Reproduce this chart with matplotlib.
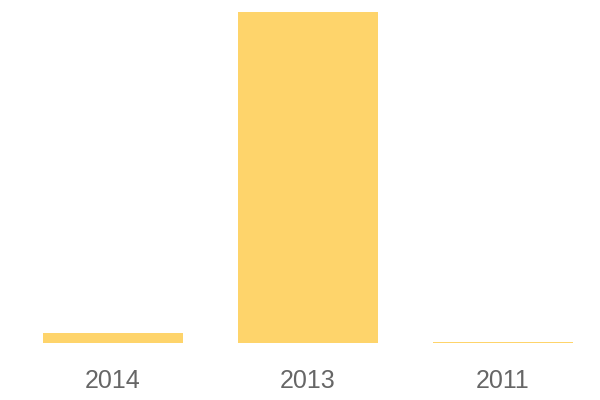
import matplotlib.pyplot as plt
import matplotlib as mpl

plt.rcParams['font.family'] = ['Liberation Sans', 'DejaVu Sans']

# 数据
years = ['2014', '2013', '2011']
values = [3.0, 100.0, 0.3]

BAR_COLOR = '#fed46b'
TEXT_COLOR = '#666666'

fig = plt.figure(figsize=(6, 4), dpi=100)
ax = fig.add_axes([15.5 / 600, 57 / 400, 585 / 600, 331 / 400])

x = range(len(years))
ax.bar(x, values, width=0.718, color=BAR_COLOR, linewidth=0)

ax.set_xlim(-0.5, len(years) - 0.5)
ax.set_ylim(0, max(values))
ax.set_xticks(list(x))
ax.set_xticklabels(years, fontsize=18, color=TEXT_COLOR)
ax.tick_params(axis='x', length=0, pad=19)
ax.set_yticks([])

for s in ax.spines.values():
    s.set_visible(False)

fig.savefig('out.png', dpi=100)
